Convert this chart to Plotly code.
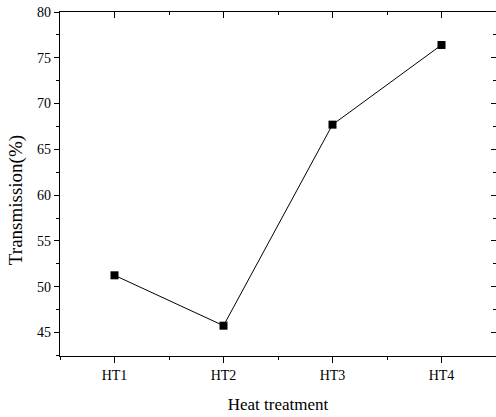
import plotly.graph_objects as go

categories = ["HT1", "HT2", "HT3", "HT4"]
transmission = [51.25, 45.75, 67.7, 76.4]
positions = list(range(1, len(categories) + 1))
y_ticks = [45, 50, 55, 60, 65, 70, 75, 80]

font_family = "Liberation Serif, Times New Roman, serif"

fig = go.Figure()
fig.add_trace(go.Scatter(
    x=positions, y=transmission, mode="lines+markers",
    line=dict(color="black", width=1),
    marker=dict(symbol="square", size=8, color="black"),
    showlegend=False,
))
# invisible trace to activate the mirrored axes
fig.add_trace(go.Scatter(x=positions, y=transmission, xaxis="x2", yaxis="y2",
                         mode="markers", marker=dict(opacity=0), showlegend=False,
                         hoverinfo="skip"))

xr = [0.5, 4.5]
yr = [42.44, 80]

fig.update_layout(
    width=496, height=417,
    margin=dict(l=60, r=0, t=12, b=61),
    plot_bgcolor="white", paper_bgcolor="white",
    font=dict(family=font_family, color="black", size=14),
    xaxis=dict(
        range=xr, tickvals=positions, ticktext=categories,
        showgrid=False, zeroline=False,
        showline=True, linecolor="black", linewidth=1.3,
        ticks="outside", ticklen=6, tickwidth=1.2, tickcolor="black",
        minor=dict(ticks="outside", ticklen=3, tickwidth=1.2, tickcolor="black", dtick=1, tick0=0.5),
        title=dict(text="Heat treatment", font=dict(size=17), standoff=16),
        tickfont=dict(size=14),
    ),
    yaxis=dict(
        range=yr, tickvals=y_ticks,
        showgrid=False, zeroline=False,
        showline=True, linecolor="black", linewidth=1.3,
        ticks="outside", ticklen=5, tickwidth=1.2, tickcolor="black",
        minor=dict(ticks="outside", ticklen=3, tickwidth=1.2, tickcolor="black", dtick=2.5, tick0=0),
        tickfont=dict(size=14),
    ),
    xaxis2=dict(
        overlaying="x", side="top", range=xr, tickvals=positions,
        showticklabels=False, showgrid=False, zeroline=False,
        showline=True, linecolor="black", linewidth=1.3,
        ticks="inside", ticklen=6, tickwidth=1.2, tickcolor="black",
        minor=dict(ticks="inside", ticklen=3, tickwidth=1.2, tickcolor="black", dtick=1, tick0=0.5),
    ),
    yaxis2=dict(
        overlaying="y", side="right", range=yr, tickvals=y_ticks,
        showticklabels=False, showgrid=False, zeroline=False,
        showline=False,
        ticks="inside", ticklen=5, tickwidth=1.2, tickcolor="black",
        minor=dict(ticks="inside", ticklen=3, tickwidth=1.2, tickcolor="black", dtick=2.5, tick0=0),
    ),
    annotations=[dict(
        text="Transmission(%)", textangle=-90, showarrow=False,
        xref="paper", yref="paper", x=-0.101, y=0.453,
        xanchor="center", yanchor="middle",
        font=dict(size=19),
    )],
)

fig.write_html("out.html")
